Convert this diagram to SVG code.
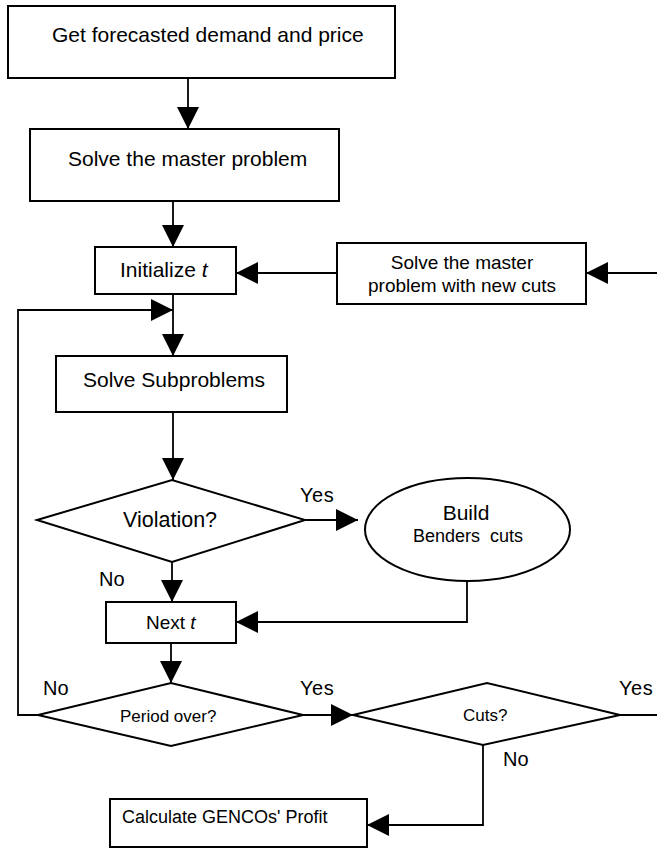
<svg xmlns="http://www.w3.org/2000/svg" width="657" height="848" viewBox="0 0 657 848">
<style>
.shape{fill:#fff;stroke:#000;stroke-width:2}
.conn{fill:none;stroke:#000;stroke-width:1.8}
text{font-family:"Liberation Sans",Arial,sans-serif;fill:#000}
.lbl{font-size:20px}
</style>
<defs>
<marker id="ah" markerUnits="userSpaceOnUse" markerWidth="22" markerHeight="22" refX="22" refY="11" orient="auto" viewBox="0 0 22 22">
<path d="M0,0 L22,11 L0,22 z" fill="#000"/>
</marker>
</defs>
<g id="connectors">
<path class="conn" d="M188,78 V129" marker-end="url(#ah)"/>
<path class="conn" d="M173,201 V247" marker-end="url(#ah)"/>
<path class="conn" d="M657,273 H586" marker-end="url(#ah)"/>
<path class="conn" d="M337,273 H236" marker-end="url(#ah)"/>
<path class="conn" d="M38,715 H18 V310 H173" marker-end="url(#ah)"/>
<path class="conn" d="M173,294 V356" marker-end="url(#ah)"/>
<path class="conn" d="M173,412 V480" marker-end="url(#ah)"/>
<path class="conn" d="M305,520 H358" marker-end="url(#ah)"/>
<path class="conn" d="M172,562 V602" marker-end="url(#ah)"/>
<path class="conn" d="M467,581 V622 H236" marker-end="url(#ah)"/>
<path class="conn" d="M171,643 V683" marker-end="url(#ah)"/>
<path class="conn" d="M303,715 H353" marker-end="url(#ah)"/>
<path class="conn" d="M620,715 H657"/>
<path class="conn" d="M483,745 V825 H367" marker-end="url(#ah)"/>
</g>
<g id="n-forecast">
<rect class="shape" x="8" y="6" width="387" height="72"/>
<text x="52" y="42" font-size="21">Get forecasted demand and price</text>
</g>
<g id="n-master">
<rect class="shape" x="30" y="129" width="309" height="72"/>
<text x="68" y="166" font-size="21">Solve the master problem</text>
</g>
<g id="n-init">
<rect class="shape" x="95" y="247" width="141" height="47"/>
<text x="120" y="277" font-size="21">Initialize <tspan font-style="italic">t</tspan></text>
</g>
<g id="n-newcuts">
<rect class="shape" x="337" y="243" width="249" height="61"/>
<text x="462" y="269" font-size="19" text-anchor="middle">Solve the master</text>
<text x="462" y="292" font-size="19" text-anchor="middle">problem with new cuts</text>
</g>
<g id="n-sub">
<rect class="shape" x="56" y="356" width="231" height="56"/>
<text x="83" y="387" font-size="21">Solve Subproblems</text>
</g>
<g id="n-violation">
<polygon class="shape" points="37,520 172,480 305,520 172,562"/>
<text x="123" y="527" font-size="21.5">Violation?</text>
</g>
<g id="n-build">
<ellipse class="shape" cx="467.5" cy="529.5" rx="102.5" ry="51.5"/>
<text x="466" y="520" font-size="21" text-anchor="middle">Build</text>
<text x="468" y="542" font-size="18" text-anchor="middle" xml:space="preserve">Benders  cuts</text>
</g>
<g id="n-next">
<rect class="shape" x="106" y="602" width="130" height="41"/>
<text x="146" y="629" font-size="19">Next <tspan font-style="italic">t</tspan></text>
</g>
<g id="n-period">
<polygon class="shape" points="38,715 171,683 303,715 171,746"/>
<text x="120" y="722" font-size="17">Period over?</text>
</g>
<g id="n-cuts">
<polygon class="shape" points="353,715 487,683 620,715 483,745"/>
<text x="463" y="721" font-size="17">Cuts?</text>
</g>
<g id="n-calc">
<rect class="shape" x="110" y="799" width="257" height="48"/>
<text x="122" y="823" font-size="18">Calculate GENCOs' Profit</text>
</g>
<g id="labels">
<text class="lbl" x="300" y="502" letter-spacing="0.5">Yes</text>
<text class="lbl" x="99" y="586">No</text>
<text class="lbl" x="43" y="695">No</text>
<text class="lbl" x="300" y="695" letter-spacing="0.5">Yes</text>
<text class="lbl" x="619" y="695" letter-spacing="0.5">Yes</text>
<text class="lbl" x="503" y="766">No</text>
</g>
</svg>
